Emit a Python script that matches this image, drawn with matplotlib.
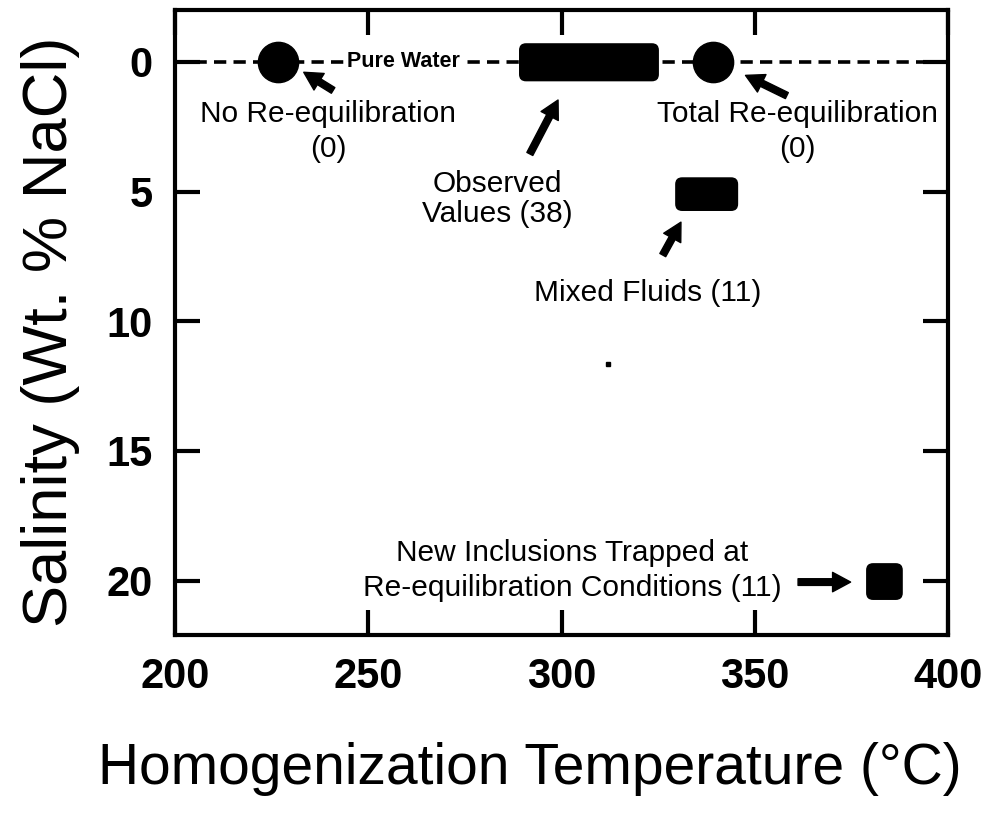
import matplotlib
matplotlib.use("Agg")
import matplotlib.pyplot as plt
from matplotlib.patches import FancyBboxPatch

# ---- data ----
circle_labels = ["No Re-equilibration", "Total Re-equilibration"]
circle_temp = [226.6, 339.2]
circle_sal = [0.0, 0.0]

box_labels = ["Observed Values", "Mixed Fluids", "New Inclusions"]
box_tmin = [289.0, 329.4, 378.8]
box_tmax = [325.2, 345.7, 388.3]
box_smin = [-0.72, 4.45, 19.33]
box_smax = [0.75, 5.75, 20.75]

speck_temp = [312.0]
speck_sal = [11.65]

pure_water_sal = 0.0
x_ticks = [200, 250, 300, 350, 400]
y_ticks = [0, 5, 10, 15, 20]

plt.rcParams['font.family'] = ['Liberation Sans', 'DejaVu Sans']

fig = plt.figure(figsize=(9.9, 8.15), dpi=100)
ax = fig.add_axes([0.1768, 0.2209, 0.9576 - 0.1768, 0.9877 - 0.2209])
ax.set_xlim(200, 400)
ax.set_ylim(22.1, -2.0)

# dashed pure-water line
ax.plot([200, 400], [pure_water_sal, pure_water_sal], color='black', lw=2.6,
        dashes=(3.4, 2.0), zorder=1)

# circles
ax.plot(circle_temp, circle_sal, 'o', color='black', markersize=29, zorder=3)

# rounded boxes
xpp = 200.0 / 773.0     # x data units per pixel (approx)
ypp = 24.1 / 625.0      # y data units per pixel
asp = ypp / xpp
for t0, t1, s0, s1 in zip(box_tmin, box_tmax, box_smin, box_smax):
    p = FancyBboxPatch((t0, s0), t1 - t0, s1 - s0,
                       boxstyle="round,pad=0,rounding_size=%.3f" % (7 * xpp),
                       mutation_aspect=asp, facecolor='black', edgecolor='black',
                       lw=0, zorder=3)
    ax.add_patch(p)

ax.plot(speck_temp, speck_sal, 's', color='black', markersize=3, zorder=3)

# "Pure Water" label interrupting dashed line
ax.text(259.2, 0.0, "Pure Water", fontsize=15.5, fontweight='bold', ha='center',
        va='center', zorder=2,
        bbox=dict(facecolor='white', edgecolor='none', pad=1.5))

# arrows
arrow_kw = dict(arrowstyle="simple,head_length=0.65,head_width=0.7,tail_width=0.24",
                color='black', shrinkA=0, shrinkB=0, mutation_scale=20)
arrows = [((240.9, 1.10), (233.3, 0.40)),
          ((291.8, 3.55), (299.1, 1.47)),
          ((358.3, 1.30), (347.6, 0.52)),
          ((326.2, 7.45), (330.9, 6.18)),
          ((361.2, 20.06), (374.8, 20.06))]
for tail, head in arrows:
    ax.annotate("", xy=head, xytext=tail, arrowprops=arrow_kw, zorder=4)

fs = 21.5
ax.text(239.6, 2.68, "No Re-equilibration\n(0)", fontsize=fs, ha='center',
        va='center', linespacing=1.3)
ax.text(283.3, 5.3, "Observed\nValues (38)", fontsize=fs, ha='center',
        va='center', linespacing=1.1)
ax.text(361.0, 2.68, "Total Re-equilibration\n(0)", fontsize=fs, ha='center',
        va='center', linespacing=1.3)
ax.text(322.4, 8.9, "Mixed Fluids (11)", fontsize=fs, ha='center', va='center')
ax.text(302.7, 19.62, "New Inclusions Trapped at\nRe-equilibration Conditions (11)",
        fontsize=fs, ha='center', va='center', linespacing=1.3)

# axes styling
for sp in ax.spines.values():
    sp.set_linewidth(3)
ax.set_xticks(x_ticks)
ax.set_yticks(y_ticks)
ax.tick_params(axis='both', direction='in', length=18, width=3, labelsize=30,
               pad=16, top=True, right=True)
for lab in ax.get_xticklabels() + ax.get_yticklabels():
    lab.set_fontweight('bold')

ax.set_xlabel("Homogenization Temperature (°C)", fontsize=41, labelpad=32)
ax.xaxis.label.set_x(0.459)
ax.set_ylabel("Salinity (Wt. % NaCl)", fontsize=45.5, labelpad=19)
ax.yaxis.label.set_y(0.485)

fig.savefig("out.png", dpi=100)
